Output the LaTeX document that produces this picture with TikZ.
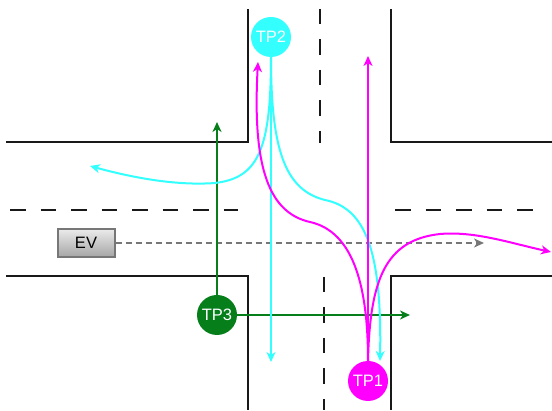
\documentclass[tikz,border=0pt]{standalone}
\usepackage{fontspec}
\setmainfont{Liberation Sans}
\usetikzlibrary{arrows.meta}
\definecolor{tpcyan}{HTML}{33FFFF}
\definecolor{tpgreen}{HTML}{067F1B}
\definecolor{tpmagenta}{HTML}{FF00FF}
\definecolor{evgray}{HTML}{777777}
\tikzset{
    road/.style={draw=black!90, line width=2pt, line join=miter},
    lane/.style={draw=black!90, line width=2pt, dash pattern=on 15.5pt off 15pt},
    tp/.style={circle, minimum size=40pt, inner sep=0pt, text=white, font=\fontsize{16.5}{16.5}\selectfont},
    route/.style={line width=2pt, -{Stealth[length=10pt, width=9pt, inset=3pt]}},
}

\begin{document}
\begin{tikzpicture}[x=1pt, y=-1pt]

    \useasboundingbox (0, 0) rectangle (552, 411);

    % Declare the road edges
    \draw[road] (6, 142.5) -- (248, 142.5) -- (248, 9);
    \draw[road] (391, 9) -- (391, 142.5) -- (552, 142.5);
    \draw[road] (6, 276) -- (247.5, 276) -- (247.5, 410);
    \draw[road] (391, 410) -- (391, 276) -- (552, 276);

    % Declare the lane markings
    \draw[lane] (319.5, 9) -- (319.5, 143);
    \draw[lane] (324, 277) -- (324, 410);
    \draw[lane] (10, 210) -- (238, 210);
    \draw[lane] (395, 210) -- (533, 210);

    % Declare the participants
    \node[tp, fill=tpcyan] at (271, 37) (TP2) {TP2};
    \node[tp, fill=tpgreen] at (217, 315) (TP3) {TP3};
    \node[tp, fill=tpmagenta] at (368, 381) (TP1) {TP1};
    \node[draw=evgray, line width=2pt, top color=black!8, bottom color=black!35, minimum width=57pt, minimum height=28pt, inner sep=0pt, font=\fontsize{16.5}{16.5}\selectfont] at (86, 243) (EV) {EV};

    % Declare the free ends
    \coordinate (EVend) at (484, 243);
    \coordinate (TP3up) at (217, 122);
    \coordinate (TP3right) at (410, 315);
    \coordinate (TP2down) at (271, 362);
    \coordinate (TP2left) at (90, 166);
    \coordinate (TP2right) at (380, 361);
    \coordinate (TP1up) at (368, 56);
    \coordinate (TP1left) at (258, 62);
    \coordinate (TP1right) at (551, 252);

    % Declare the ego route
    \draw[route, evgray, dash pattern=on 6pt off 4pt] (EV) -- (EVend);

    % Declare the green routes
    \draw[route, tpgreen] (TP3) -- (TP3up);
    \draw[route, tpgreen] (TP3) -- (TP3right);

    % Declare the cyan routes
    \draw[route, tpcyan] (TP2) -- (TP2down);
    \draw[route, tpcyan] (TP2.south) .. controls (271, 150) and (258, 178) .. (215, 183) .. controls (175, 186) and (130, 177) .. (TP2left);
    \draw[route, tpcyan] (TP2.south) .. controls (271, 150) and (285, 190) .. (325, 200) .. controls (365, 208) and (382, 250) .. (TP2right);

    % Declare the magenta routes
    \draw[route, tpmagenta] (TP1) -- (TP1up);
    \draw[route, tpmagenta] (TP1.north) .. controls (368, 290) and (355, 232) .. (310, 222) .. controls (270, 213) and (252, 170) .. (TP1left);
    \draw[route, tpmagenta] (TP1.north) .. controls (370, 280) and (385, 240) .. (440, 234) .. controls (475, 231) and (510, 243) .. (TP1right);

\end{tikzpicture}
\end{document}
